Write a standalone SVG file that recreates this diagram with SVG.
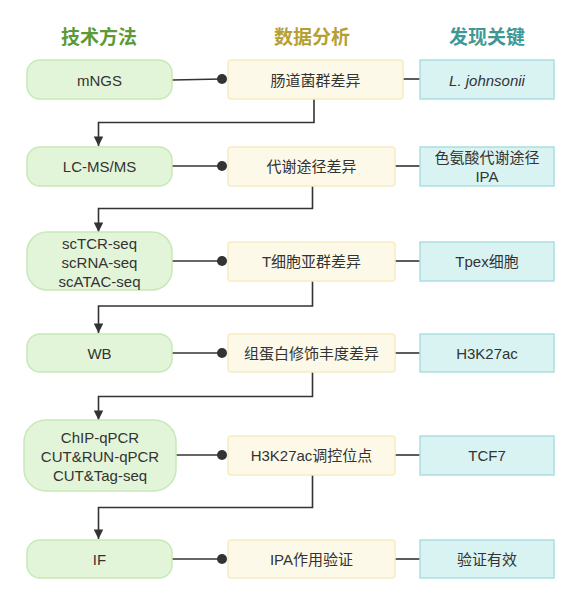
<svg xmlns="http://www.w3.org/2000/svg" width="576" height="598" viewBox="0 0 576 598">
<defs>
<style>
.hdr{font-family:"Noto Sans CJK SC","Liberation Sans",sans-serif;font-size:19px;font-weight:bold;text-anchor:middle}
.t{font-family:"Liberation Sans","Noto Sans CJK SC",sans-serif;font-size:15px;fill:#333;text-anchor:middle;dominant-baseline:central}
.g{fill:#e3f5d9;stroke:#c6e9b6;stroke-width:1.5}
.y{fill:#fdf9e8;stroke:#f6ecc4;stroke-width:1.5}
.c{fill:#d9f3f3;stroke:#aadfe0;stroke-width:1.5}
.ln{fill:none;stroke:#333;stroke-width:1.6}
</style>
<marker id="arr" viewBox="0 0 10 10" refX="10" refY="5" markerWidth="6" markerHeight="6" markerUnits="strokeWidth" orient="auto"><path d="M0,0 L10,5 L0,10 z" fill="#333"/></marker>
</defs>
<rect width="576" height="598" fill="#fff"/>
<g id="headers">
<text class="hdr" x="99" y="44" fill="#5b9a37">技术方法</text>
<text class="hdr" x="312" y="44" fill="#b5a034">数据分析</text>
<text class="hdr" x="487" y="44" fill="#3f9894">发现关键</text>
</g>
<g id="connectors">
<path class="ln" d="M172,80 L222,79"/><circle cx="222" cy="79" r="5" fill="#333"/>
<path class="ln" d="M403,79 L420,79"/>
<path class="ln" d="M314,99 V122.5 H98.5 V146" marker-end="url(#arr)"/>
<path class="ln" d="M172,166 L222,166"/><circle cx="222" cy="166" r="5" fill="#333"/>
<path class="ln" d="M395,166 L420,166"/>
<path class="ln" d="M312.5,186 V208.5 H98.5 V232" marker-end="url(#arr)"/>
<path class="ln" d="M172,261 L222,261"/><circle cx="222" cy="261" r="5" fill="#333"/>
<path class="ln" d="M395,261 L420,261"/>
<path class="ln" d="M312.5,281 V306 H98.5 V333" marker-end="url(#arr)"/>
<path class="ln" d="M172,353 L222,353"/><circle cx="222" cy="353" r="5" fill="#333"/>
<path class="ln" d="M395,353 L420,353"/>
<path class="ln" d="M312.5,372 V396.5 H98.5 V420" marker-end="url(#arr)"/>
<path class="ln" d="M176,455 L222,455"/><circle cx="222" cy="455" r="5" fill="#333"/>
<path class="ln" d="M395,455 L420,455"/>
<path class="ln" d="M312.5,475 V507.5 H98.5 V539" marker-end="url(#arr)"/>
<path class="ln" d="M172,559 L222,559"/><circle cx="222" cy="559" r="5" fill="#333"/>
<path class="ln" d="M395,559 L420,559"/>
</g>
<g id="n-mngs"><rect class="g" x="27" y="60" width="145" height="39" rx="13"/><text class="t" x="99.5" y="80">mNGS</text></g>
<g id="n-gut"><rect class="y" x="228" y="60" width="175" height="39" rx="3"/><text class="t" x="315.5" y="80">肠道菌群差异</text></g>
<g id="n-lj"><rect class="c" x="420" y="60" width="134" height="39"/><text class="t" x="487" y="80" font-style="italic">L. johnsonii</text></g>

<g id="n-lcms"><rect class="g" x="27" y="147" width="145" height="39" rx="13"/><text class="t" x="99.5" y="166.5">LC-MS/MS</text></g>
<g id="n-met"><rect class="y" x="228" y="147" width="167" height="39" rx="3"/><text class="t" x="311.5" y="166.5">代谢途径差异</text></g>
<g id="n-ipa"><rect class="c" x="420" y="147" width="134" height="39"/><text class="t" x="487" y="157">色氨酸代谢途径</text><text class="t" x="487" y="176">IPA</text></g>

<g id="n-sc"><rect class="g" x="27" y="232" width="145" height="58" rx="20"/><text class="t" x="99.5" y="243">scTCR-seq</text><text class="t" x="99.5" y="262">scRNA-seq</text><text class="t" x="99.5" y="281">scATAC-seq</text></g>
<g id="n-tcell"><rect class="y" x="228" y="242" width="167" height="39" rx="3"/><text class="t" x="311.5" y="261.5">T细胞亚群差异</text></g>
<g id="n-tpex"><rect class="c" x="420" y="242" width="134" height="39"/><text class="t" x="487" y="261.5">Tpex细胞</text></g>

<g id="n-wb"><rect class="g" x="27" y="334" width="145" height="38" rx="13"/><text class="t" x="99.5" y="353">WB</text></g>
<g id="n-hist"><rect class="y" x="228" y="334" width="167" height="38" rx="3"/><text class="t" x="311.5" y="353">组蛋白修饰丰度差异</text></g>
<g id="n-h3k"><rect class="c" x="420" y="334" width="134" height="38"/><text class="t" x="487" y="353">H3K27ac</text></g>

<g id="n-chip"><rect class="g" x="24" y="420" width="152" height="71" rx="22"/><text class="t" x="100" y="437">ChIP-qPCR</text><text class="t" x="100" y="456">CUT&amp;RUN-qPCR</text><text class="t" x="100" y="475">CUT&amp;Tag-seq</text></g>
<g id="n-site"><rect class="y" x="228" y="436" width="167" height="39" rx="3"/><text class="t" x="311.5" y="455.5">H3K27ac调控位点</text></g>
<g id="n-tcf7"><rect class="c" x="420" y="436" width="134" height="39"/><text class="t" x="487" y="455.5">TCF7</text></g>

<g id="n-if"><rect class="g" x="27" y="540" width="145" height="38" rx="13"/><text class="t" x="99.5" y="559">IF</text></g>
<g id="n-ipav"><rect class="y" x="228" y="540" width="167" height="38" rx="3"/><text class="t" x="311.5" y="559">IPA作用验证</text></g>
<g id="n-valid"><rect class="c" x="420" y="540" width="134" height="38"/><text class="t" x="487" y="559">验证有效</text></g>
</svg>
